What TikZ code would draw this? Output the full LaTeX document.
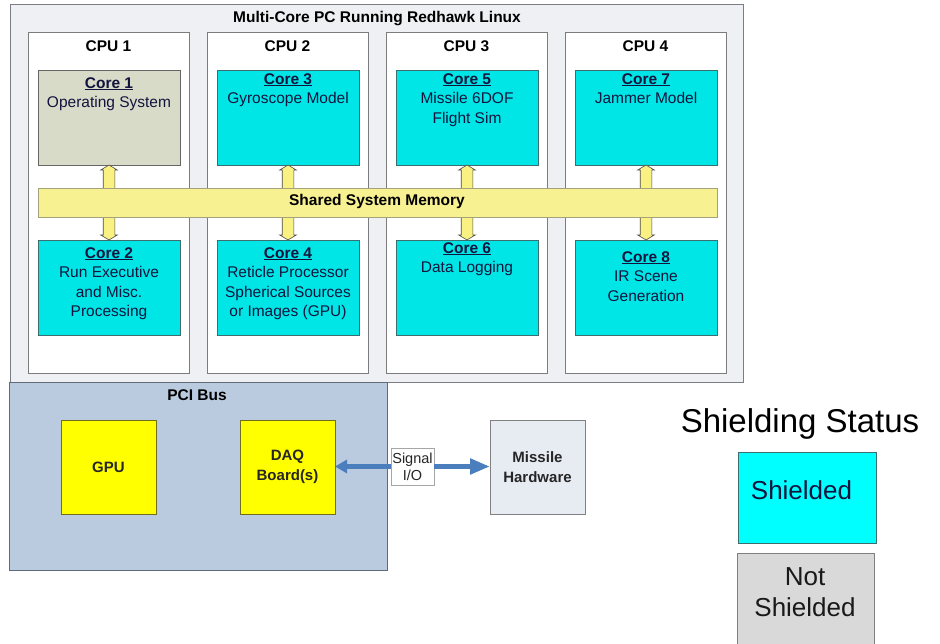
\documentclass[tikz,border=0pt]{standalone}
\usepackage{fontspec}
\setmainfont{Liberation Sans}
\usetikzlibrary{arrows.meta,calc}

\definecolor{pcfill}{HTML}{EEF0F3}
\definecolor{pcline}{HTML}{7A7E84}
\definecolor{cpuline}{HTML}{7C7C7C}
\definecolor{shield}{HTML}{00E6E6}
\definecolor{shieldline}{HTML}{3C6E70}
\definecolor{osfill}{HTML}{D9DBC9}
\definecolor{memfill}{HTML}{F8F191}
\definecolor{memline}{HTML}{A4A27A}
\definecolor{pcifill}{HTML}{BACADF}
\definecolor{pciline}{HTML}{5E6B7A}
\definecolor{cardfill}{HTML}{FFFF00}
\definecolor{cardline}{HTML}{6E6E1E}
\definecolor{hwfill}{HTML}{E7EBF2}
\definecolor{sigblue}{HTML}{4A7EBD}
\definecolor{navytext}{HTML}{12143E}
\definecolor{legcyan}{HTML}{00FFFF}
\definecolor{leggray}{HTML}{D9D9D9}

% a fat two-headed arrow running behind the memory bar, core to core
\newcommand\corelink[2]{%
  \draw[linkarrow] let \p1=(#1.south), \p2=(#2.north) in
    (\x1,\y1) -- (\x1+8.3pt,\y1-5pt) -- (\x1+5.8pt,\y1-5pt)
    -- (\x1+5.8pt,\y2+5pt) -- (\x1+8.3pt,\y2+5pt) -- (\x1,\y2)
    -- (\x1-8.3pt,\y2+5pt) -- (\x1-5.8pt,\y2+5pt)
    -- (\x1-5.8pt,\y1-5pt) -- (\x1-8.3pt,\y1-5pt) -- cycle;}

\begin{document}
\begin{tikzpicture}[x=1pt,y=-1pt,
  box/.style={anchor=north west, inner sep=0pt, outer sep=0pt},
  pcbox/.style={box, draw=pcline, fill=pcfill, line width=0.9pt},
  cpubox/.style={box, draw=cpuline, fill=white, line width=0.9pt,
    minimum width=161, minimum height=341},
  shieldcore/.style={box, draw=shieldline, fill=shield, line width=0.8pt,
    minimum width=142, minimum height=95},
  oscore/.style={box, draw=gray!80!black, fill=osfill, line width=0.8pt,
    minimum width=142, minimum height=95},
  membar/.style={box, draw=memline, fill=memfill, line width=0.8pt},
  pcibox/.style={box, draw=pciline, fill=pcifill, line width=0.9pt},
  cardbox/.style={box, draw=cardline, fill=cardfill, line width=0.8pt,
    minimum width=95, minimum height=94},
  hwbox/.style={box, draw=gray, fill=hwfill, line width=0.8pt,
    minimum width=95, minimum height=94},
  sigbox/.style={box, draw=gray!70, fill=white, line width=0.6pt,
    minimum width=43, minimum height=37},
  legendbox/.style={box, line width=0.8pt},
  heading/.style={font=\fontsize{15.5}{18}\selectfont\bfseries, anchor=base, text=black},
  coretext/.style={font=\fontsize{15.5}{19.5}\selectfont, align=center,
    anchor=north, text=navytext, inner sep=0pt},
  cardtext/.style={font=\fontsize{15}{19.5}\selectfont\bfseries, align=center,
    text=black!85, inner sep=0pt},
  linkarrow/.style={draw=black!70, fill=memfill!90!yellow, line width=0.6pt},
  sigline/.style={draw=sigblue, line width=5pt},
]
\useasboundingbox (0,0) rectangle (940,644);

% the PC and its four CPUs
\node[pcbox, minimum width=733, minimum height=378] (pc) at (10,4) {};
\node[heading] (pct) at (377,23) {Multi-Core PC Running Redhawk Linux};

\node[cpubox] (cpu1) at (28,32) {};
\node[cpubox] (cpu2) at (207,32) {};
\node[cpubox] (cpu3) at (386,32) {};
\node[cpubox] (cpu4) at (565,32) {};
\node[heading] (cpu1t) at (cpu1.north |- 0,52) {CPU 1};
\node[heading] (cpu2t) at (cpu2.north |- 0,52) {CPU 2};
\node[heading] (cpu3t) at (cpu3.north |- 0,52) {CPU 3};
\node[heading] (cpu4t) at (cpu4.north |- 0,52) {CPU 4};

% cores
\node[oscore] (c1) at (38,70) {};
\node[shieldcore] (c3) at (217,70) {};
\node[shieldcore] (c5) at (396,70) {};
\node[shieldcore] (c7) at (575,70) {};
\node[shieldcore] (c2) at (38,240) {};
\node[shieldcore] (c4) at (217,240) {};
\node[shieldcore] (c6) at (396,240) {};
\node[shieldcore] (c8) at (575,240) {};

\node[coretext] (c1t) at (c1.north |- 0,77) {\textbf{\underline{Core 1}}\\Operating System};
\node[coretext] (c3t) at (c3.north |- 0,73) {\textbf{\underline{Core 3}}\\Gyroscope Model};
\node[coretext] (c5t) at (c5.north |- 0,73) {\textbf{\underline{Core 5}}\\Missile 6DOF\\Flight Sim};
\node[coretext] (c7t) at (c7.north |- 0,73) {\textbf{\underline{Core 7}}\\Jammer Model};
\node[coretext] (c2t) at (c2.north |- 0,247) {\textbf{\underline{Core 2}}\\Run Executive\\and Misc.\\Processing};
\node[coretext] (c4t) at (c4.north |- 0,247) {\textbf{\underline{Core 4}}\\Reticle Processor\\Spherical Sources\\or Images (GPU)};
\node[coretext] (c6t) at (c6.north |- 0,242) {\textbf{\underline{Core 6}}\\Data Logging};
\node[coretext] (c8t) at (c8.north |- 0,251) {\textbf{\underline{Core 8}}\\IR Scene\\Generation};

% links through shared memory
\corelink{c1}{c2}
\corelink{c3}{c4}
\corelink{c5}{c6}
\corelink{c7}{c8}

\node[membar, minimum width=679, minimum height=29] (mem) at (38,188) {};
\node[heading] (memt) at (377,206) {Shared System Memory};

% PCI bus and cards
\node[pcibox, minimum width=377.5, minimum height=188.5] (pci) at (9.5,382) {};
\node[heading] (pcit) at (197,400) {PCI Bus};
\node[cardbox] (gpu) at (61,420) {};
\node[cardtext] (gput) at (gpu.center) {GPU};
\node[cardbox] (daq) at (240,420) {};
\node[cardtext] (daqt) at (daq.center) {DAQ\\Board(s)};

% external hardware
\node[sigbox] (sig) at (391,448) {};
\node[font=\fontsize{14.5}{17}\selectfont, align=center, inner sep=0pt, text=black!85] (sigt) at (sig.center) {Signal\\I/O};
\node[hwbox] (mh) at (490,420) {};
\node[cardtext] (mht) at (mh.center) {Missile\\Hardware};

\draw[sigline, -{Triangle[width=13pt,length=12pt]}] (sig.west) -- (sig.west -| daq.east);
\draw[sigline, -{Triangle[width=15pt,length=20pt]}] (sig.east) -- (sig.east -| mh.west);

% legend
\node[font=\fontsize{33}{38}\selectfont, anchor=base, inner sep=0pt] (legt) at (800,432) {Shielding Status};
\node[legendbox, draw=shieldline, fill=legcyan, minimum width=138, minimum height=91] (legs) at (738,452) {};
\node[font=\fontsize{26}{31}\selectfont, text=navytext, inner sep=0pt] (legst) at (801.5,490) {Shielded};
\node[legendbox, draw=gray, fill=leggray, minimum width=137, minimum height=91] (legn) at (737,553) {};
\node[font=\fontsize{26}{31}\selectfont, align=center, text=black!90, inner sep=0pt] (legnt) at (805,592) {Not\\Shielded};
\end{tikzpicture}
\end{document}
